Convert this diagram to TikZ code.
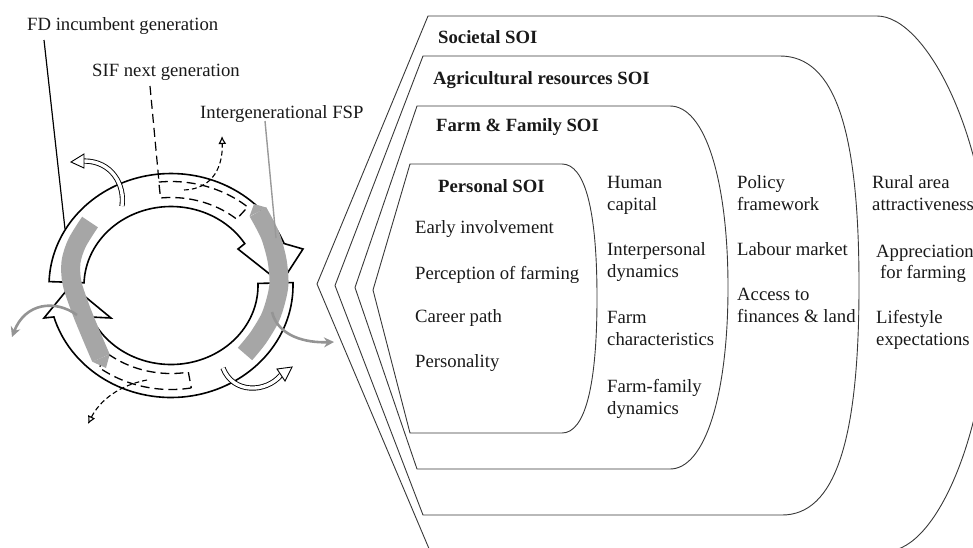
\documentclass[tikz,border=0pt]{standalone}
\usepackage{fontspec}
\setmainfont{Liberation Serif}
\usetikzlibrary{arrows.meta}
\begin{document}
\begin{tikzpicture}[x=1pt,y=-1pt,
  txt/.style={font=\fontsize{18.7}{22}\selectfont, inner sep=0pt, anchor=base west, text=black!90},
  btxt/.style={font=\fontsize{18.7}{22}\selectfont\bfseries, inner sep=0pt, anchor=base west, text=black!90},
  soi/.style={draw=black!78, line width=0.9pt, line join=round},
  ringarrow/.style={draw=black, line width=1.6pt, fill=white, line join=miter},
  grayband/.style={draw=black!35, line width=19pt, line cap=butt},
  graytail/.style={fill=black!35, draw=none},
  grayarrow/.style={draw=black!42, line width=2.6pt, -{Stealth[length=10pt,width=10pt]}},
  dashline/.style={draw=black, line width=1.3pt, dash pattern=on 9pt off 5pt},
  dasharrow/.style={draw=black, line width=1.1pt, dash pattern=on 5pt off 3pt, -{Latex[open,length=8pt,width=8pt]}},
  hollow/.style={draw=black, line width=0.9pt, double=white, double distance=3.4pt},
  hollowhead/.style={draw=black, line width=0.9pt, fill=white, line join=miter},
  leader/.style={draw=black, line width=1.2pt}
]
\useasboundingbox (0,0) rectangle (973,547);
\clip (0,0) rectangle (973,547);

% ---------- spheres of influence ----------
\draw[soi] (428,16) -- (877,16) .. controls (927,16) and (990,140) .. (990,284)
  .. controls (990,428) and (937,551) .. (887,551) -- (430,551) -- (317,284) -- cycle;
\draw[soi] (423,56) -- (780,56) .. controls (835,56) and (859,130) .. (859,285.5)
  .. controls (859,441) and (835,515) .. (782,515) -- (423,515) -- (335,285.5) -- cycle;
\draw[soi] (417,106) -- (670,106) .. controls (705,106) and (728,180) .. (728,287.5)
  .. controls (728,395) and (705,469) .. (670,469) -- (417,469) -- (355,287.5) -- cycle;
\draw[soi] (410,164) -- (562,164) .. controls (585,164) and (597,210) .. (597,298)
  .. controls (597,386) and (585,433) .. (562,433) -- (410,433) -- (373,290) -- cycle;

% ---------- cycle: two block arrows ----------
\path[ringarrow] plot[domain=182:338, samples=70, variable=\t] ({171+122*cos(\t)},{285.5+112*sin(\t)})
  -- (303,249) -- (281,283) -- (238,249)
  -- plot[domain=0:146, samples=70, variable=\s] ({171+87*cos(328-\s)},{285.5+79*sin(328-\s)}) -- cycle;
\path[ringarrow] plot[domain=-1.5:163.7, samples=70, variable=\t] ({171+122*cos(\t)},{285.5+112*sin(\t)})
  -- (44,318) -- (71,285) -- (111,318)
  -- plot[domain=0:158, samples=70, variable=\s] ({171+87*cos(156.5-\s)},{285.5+79*sin(156.5-\s)}) -- cycle;

% ---------- SIF dashed bands ----------
\draw[dashline] plot[domain=264:311, samples=40, variable=\t] ({171+117*cos(\t)},{285.5+104*sin(\t)})
  -- plot[domain=0:47, samples=40, variable=\s] ({171+100*cos(311-\s)},{285.5+88*sin(311-\s)}) -- cycle;
\draw[dashline] plot[domain=80:128, samples=40, variable=\t] ({171+117*cos(\t)},{285.5+104*sin(\t)})
  -- plot[domain=0:48, samples=40, variable=\s] ({171+100*cos(128-\s)},{285.5+88*sin(128-\s)}) -- cycle;

% ---------- intergenerational FSP grey bands ----------
\draw[grayband] plot[smooth] coordinates {(101,358) (92,337) (81,310) (72,283) (71,262) (77,243) (90,222)};
\path[graytail] (109.7,354.3) -- (92.3,361.7) -- (106,368) -- cycle;
\draw[grayband] plot[smooth] coordinates {(258,212) (270,235) (277,260) (279,283) (276,300) (270,318) (258,338) (245,354)};
\path[graytail] (266.5,207.6) -- (249.5,216.4) -- (254,204) -- cycle;

% ---------- outgoing grey arrows ----------
\coordinate (gl0) at (77,315);
\coordinate (gl1) at (12,337);
\draw[grayarrow] (gl0) .. controls (55,299) and (25,303) .. (gl1);
\coordinate (gr0) at (272,312);
\coordinate (gr1) at (334,342);
\draw[grayarrow] (gr0) .. controls (278,336) and (305,343) .. (gr1);

% ---------- hollow FD arrows ----------
\coordinate (ht0) at (122,206);
\coordinate (ht1) at (84,161);
\draw[hollow] (ht0) .. controls (125,185) and (112,161) .. (ht1);
\path[hollowhead] (71,162) -- (84,154) -- (84,168) -- cycle;
\coordinate (hb0) at (223,368);
\coordinate (hb1) at (281,375);
\draw[hollow] (hb0) .. controls (233,394) and (266,393) .. (hb1);
\path[hollowhead] (292,367) -- (277,369) -- (285,381) -- cycle;

% ---------- dashed SIF arrows ----------
\coordinate (dt0) at (184,190);
\coordinate (dt1) at (222,136);
\draw[dasharrow] (dt0) .. controls (214,189) and (223,165) .. (dt1);
\coordinate (db0) at (147,380);
\coordinate (db1) at (88,424);
\draw[dasharrow] (db0) .. controls (120,385) and (100,400) .. (db1);

% ---------- labels ----------
\node[txt] (fd) at (27,30) {FD incumbent generation};
\node[txt] (sif) at (92,76) {SIF next generation};
\node[txt] (ifsp) at (200,118) {Intergenerational FSP};

\coordinate (fdA) at (44,40);
\coordinate (fdB) at (65,229);
\draw[leader] (fdA) -- (fdB);
\coordinate (sifA) at (150,86);
\coordinate (sifB) at (159,182);
\draw[dashline, line width=1.2pt] (sifA) -- (sifB);
\coordinate (ifA) at (265,121);
\coordinate (ifB) at (276,238);
\draw[draw=black!40, line width=1.4pt] (ifA) -- (ifB);

\node[btxt] (soc) at (438,43) {Societal SOI};
\node[btxt] (agr) at (433,84) {Agricultural resources SOI};
\node[btxt] (ff) at (436,131) {Farm \& Family SOI};
\node[btxt] (pers) at (438,192) {Personal SOI};

\node[txt] (p1) at (415,233) {Early involvement};
\node[txt] (p2) at (415,279) {Perception of farming};
\node[txt] (p3) at (415,322) {Career path};
\node[txt] (p4) at (415,367) {Personality};

\node[txt] (f1a) at (607,188) {Human};
\node[txt] (f1b) at (607,210) {capital};
\node[txt] (f2a) at (607,255) {Interpersonal};
\node[txt] (f2b) at (607,277) {dynamics};
\node[txt] (f3a) at (607,323) {Farm};
\node[txt] (f3b) at (607,345) {characteristics};
\node[txt] (f4a) at (607,392) {Farm-family};
\node[txt] (f4b) at (607,414) {dynamics};

\node[txt] (a1a) at (737,188) {Policy};
\node[txt] (a1b) at (737,210) {framework};
\node[txt] (a2) at (737,255) {Labour market};
\node[txt] (a3a) at (737,300) {Access to};
\node[txt] (a3b) at (737,322) {finances \& land};

\node[txt] (s1a) at (872,188) {Rural area};
\node[txt] (s1b) at (872,210) {attractiveness};
\node[txt] (s2a) at (876,257) {Appreciation};
\node[txt] (s2b) at (880,278) {for farming};
\node[txt] (s3a) at (876,323) {Lifestyle};
\node[txt] (s3b) at (876,345) {expectations};
\end{tikzpicture}
\end{document}
